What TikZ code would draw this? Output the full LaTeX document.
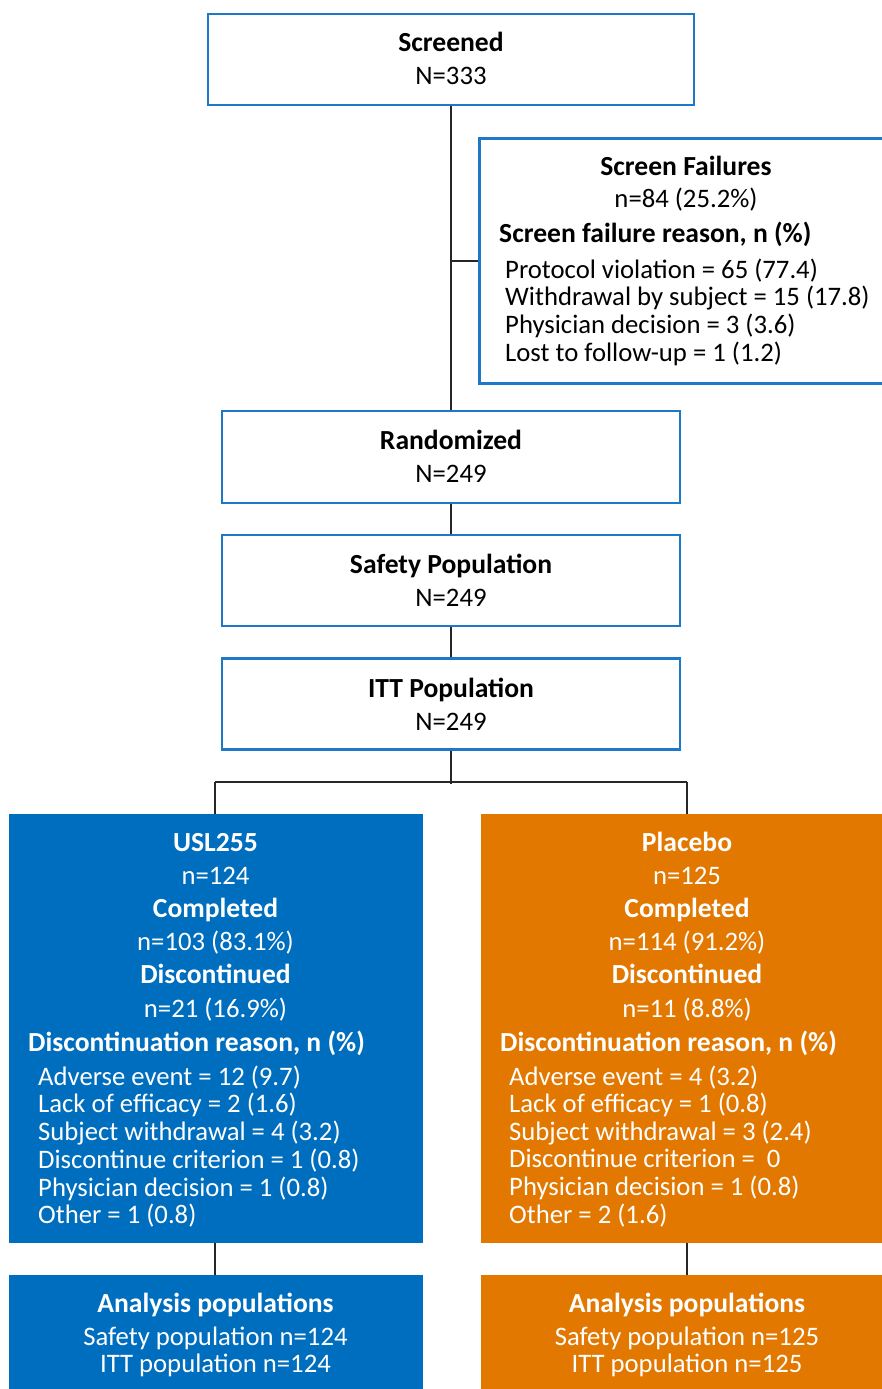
\documentclass[tikz,border=0pt]{standalone}
\usepackage{fontspec}
\setmainfont{Carlito}
\usetikzlibrary{calc}
\definecolor{cblue}{RGB}{0,110,190}
\definecolor{cborder}{RGB}{30,120,200}
\definecolor{corange}{RGB}{226,120,0}
\newcommand\hb[1]{{\fontsize{27.6}{33}\selectfont\bfseries #1}}
\begin{document}
\begin{tikzpicture}[x=1pt,y=-1pt,
  wbox/.style={draw=cborder,line width=2.5pt,fill=white,inner sep=0pt},
  bbox/.style={fill=cblue,inner sep=0pt},
  obox/.style={fill=corange,inner sep=0pt},
  conn/.style={draw=black!85,line width=2.2pt},
  ctext/.style={inner sep=0pt,anchor=base,font=\fontsize{26.7}{33}\selectfont},
  ltext/.style={inner sep=0pt,anchor=base west,font=\fontsize{26.7}{27.4}\selectfont},
  htext/.style={inner sep=0pt,anchor=base west,font=\fontsize{27.6}{33}\selectfont\bfseries},
]
\useasboundingbox (0,0) rectangle (882,1389);

% boxes
\node[wbox,minimum width=486pt,minimum height=91pt] (scr) at (451,59.5) {};
\node[wbox,minimum width=418pt,minimum height=245pt,anchor=north west] (sf) at (478,137) {};
\node[wbox,minimum width=458pt,minimum height=92pt] (rand) at (451,457) {};
\node[wbox,minimum width=458pt,minimum height=91pt] (safe) at (451,580.5) {};
\node[wbox,minimum width=458pt,minimum height=91pt] (itt) at (451,704) {};
\node[bbox,minimum width=414pt,minimum height=429pt,anchor=north west] (usl) at (9,814) {};
\node[obox,minimum width=413pt,minimum height=429pt,anchor=north west] (pla) at (481,814) {};
\node[bbox,minimum width=414pt,minimum height=130pt,anchor=north west] (ana1) at (9,1275) {};
\node[obox,minimum width=413pt,minimum height=130pt,anchor=north west] (ana2) at (481,1275) {};

% connectors
\coordinate (split) at ($(itt.south)+(0,33)$);
\coordinate (sl) at (215,782);
\coordinate (sr) at (687,782);
\draw[conn] (scr.south) -- (rand.north);
\draw[conn] (sf.west) -- (sf.west -| scr.south);
\draw[conn] (rand.south) -- (safe.north);
\draw[conn] (safe.south) -- (itt.north);
\draw[conn] (itt.south) -- (split);
\draw[conn] (sl) -- (sr);
\draw[conn] (sl) -- (usl.north -| sl);
\draw[conn] (sr) -- (pla.north -| sr);
\draw[conn] (usl.south -| sl) -- (ana1.north -| sl);
\draw[conn] (pla.south -| sr) -- (ana2.north -| sr);

% texts
\node[ctext] (tscr) at (451,51.5) {\begin{tabular}[t]{@{}c@{}}\hb{Screened}\\N=333\end{tabular}};
\node[ctext] (tsf) at (686,175) {\begin{tabular}[t]{@{}c@{}}\hb{Screen Failures}\\[-1pt]n=84 (25.2\%)\end{tabular}};
\node[htext] (hsf) at (499,242) {Screen failure reason, n (\%)};
\node[ltext] (lsf) at (505,278) {\begin{tabular}[t]{@{}l@{}}Protocol violation = 65 (77.4)\\Withdrawal by subject = 15 (17.8)\\Physician decision = 3 (3.6)\\Lost to follow-up = 1 (1.2)\end{tabular}};
\node[ctext] (trand) at (451,449) {\begin{tabular}[t]{@{}c@{}}\hb{Randomized}\\N=249\end{tabular}};
\node[ctext] (tsafe) at (451,573) {\begin{tabular}[t]{@{}c@{}}\hb{Safety Population}\\N=249\end{tabular}};
\node[ctext] (titt) at (451,697) {\begin{tabular}[t]{@{}c@{}}\hb{ITT Population}\\N=249\end{tabular}};

\begin{scope}[text=white]
\node[ctext,font=\fontsize{26.7}{33.2}\selectfont] (tusl) at (215.5,851) {\begin{tabular}[t]{@{}c@{}}\hb{USL255}\\n=124\\\hb{Completed}\\n=103 (83.1\%)\\\hb{Discontinued}\\n=21 (16.9\%)\end{tabular}};
\node[htext] (husl) at (28,1051) {Discontinuation reason, n (\%)};
\node[ltext] (lusl) at (38,1085) {\begin{tabular}[t]{@{}l@{}}Adverse event = 12 (9.7)\\Lack of efficacy = 2 (1.6)\\Subject withdrawal = 4 (3.2)\\Discontinue criterion = 1 (0.8)\\Physician decision = 1 (0.8)\\Other = 1 (0.8)\end{tabular}};
\node[ctext,font=\fontsize{26.7}{33.2}\selectfont] (tpla) at (687,851) {\begin{tabular}[t]{@{}c@{}}\hb{Placebo}\\n=125\\\hb{Completed}\\n=114 (91.2\%)\\\hb{Discontinued}\\n=11 (8.8\%)\end{tabular}};
\node[htext] (hpla) at (500,1051) {Discontinuation reason, n (\%)};
\node[ltext] (lpla) at (509,1085) {\begin{tabular}[t]{@{}l@{}}Adverse event = 4 (3.2)\\Lack of efficacy = 1 (0.8)\\Subject withdrawal = 3 (2.4)\\Discontinue criterion = \ 0\\Physician decision = 1 (0.8)\\Other = 2 (1.6)\end{tabular}};
\node[ctext] (tana1) at (215.5,1312) {\hb{Analysis populations}};
\node[ctext,font=\fontsize{26.7}{27}\selectfont] (pana1) at (215.5,1345) {\begin{tabular}[t]{@{}c@{}}Safety population n=124\\ITT population n=124\end{tabular}};
\node[ctext] (tana2) at (687,1312) {\hb{Analysis populations}};
\node[ctext,font=\fontsize{26.7}{27}\selectfont] (pana2) at (687,1345) {\begin{tabular}[t]{@{}c@{}}Safety population n=125\\ITT population n=125\end{tabular}};
\end{scope}
\end{tikzpicture}
\end{document}
